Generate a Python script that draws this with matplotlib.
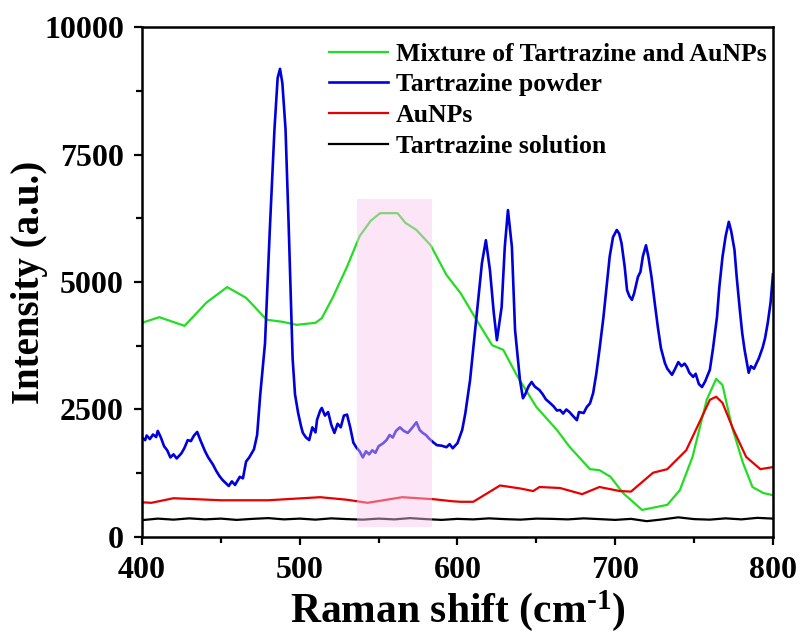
import matplotlib
matplotlib.use("Agg")
import matplotlib.pyplot as plt
from matplotlib.patches import Rectangle
from matplotlib.ticker import MultipleLocator

# Raman spectra, intensity in a.u. against shift in cm^-1
mix_x = [400, 411, 427, 441, 454, 466, 479, 489, 498, 510, 514, 521, 530, 538,
         545, 551, 562, 567, 574, 583, 593, 602, 612, 622, 629, 638, 650, 663,
         671, 684, 690, 697, 705, 717, 733, 741, 749, 758, 764, 768, 774, 781,
         787, 794, 800]
mix_y = [4200, 4310, 4140, 4600, 4900, 4690, 4260, 4220, 4160, 4200, 4290, 4700,
         5300, 5900, 6200, 6350, 6350, 6160, 6020, 5720, 5140, 4780, 4260, 3760,
         3670, 3150, 2550, 2100, 1770, 1330, 1310, 1180, 860, 530, 630, 920, 1570,
         2690, 3100, 2980, 2160, 1450, 980, 860, 820]

powder = [
    (400, 1950), (402, 1900), (403, 1990), (405, 1920), (407, 2010), (409, 1960),
    (410, 2080), (412, 1950), (414, 1780), (416, 1700), (418, 1560), (420, 1620),
    (422, 1540), (425, 1640), (427, 1750), (429, 1900), (431, 1880), (433, 1990),
    (435, 2060), (437, 1900), (440, 1680), (442, 1560), (445, 1420), (447, 1300),
    (449, 1200), (451, 1120), (453, 1060), (455, 1000), (457, 1090), (459, 1020),
    (462, 1180), (464, 1150), (466, 1480), (468, 1560), (471, 1720), (473, 2000),
    (475, 2800), (478, 3800), (481, 6000), (484, 8000), (486, 9000), (487.5, 9180),
    (489, 8900), (491, 8000), (493, 6100), (495.5, 3500), (497, 2800), (499, 2430),
    (501, 2150), (502, 2040), (504, 1950), (506, 1900), (508, 2150), (510, 2050),
    (511, 2300), (513, 2480), (514, 2530), (516, 2380), (518, 2450), (520, 2200),
    (522, 2040), (524, 2220), (526, 2150), (528, 2380), (530, 2400), (532, 2150),
    (534, 1850), (536, 1750), (538, 1680), (540, 1560), (542, 1680), (544, 1620),
    (546, 1700), (548, 1650), (550, 1780), (553, 1840), (555, 1900), (557, 2000),
    (559, 1950), (561, 2080), (563.5, 2150), (566, 2080), (568.5, 2040), (571, 2130),
    (574, 2250), (576, 2100), (578, 2040), (580, 2000), (582, 1930), (584.5, 1860),
    (587, 1800), (590, 1790), (593, 1760), (595, 1820), (597, 1740), (600, 1840),
    (603, 2100), (605, 2430), (608, 3080), (611.7, 4200), (615.5, 5370), (618, 5820),
    (620.6, 5230), (623, 4400), (625, 3860), (628, 4510), (630, 5690), (632, 6410),
    (634.5, 5690), (636.5, 4060), (639.6, 3080), (641.5, 2720), (643, 2800),
    (645, 2950), (647, 3040), (649, 2950), (652, 2880), (654, 2800), (656, 2700),
    (658.6, 2630), (661, 2560), (663, 2480), (665, 2490), (667, 2420), (669, 2500),
    (671, 2450), (673, 2380), (675.7, 2290), (677, 2450), (680, 2430), (682, 2550),
    (684, 2620), (686, 2820), (688, 3200), (690, 3670), (692.5, 4300), (694.8, 4980),
    (696.5, 5500), (698.6, 5880), (701, 6020), (702.5, 5950), (704, 5760), (706, 5300),
    (707.5, 4840), (709, 4720), (710.6, 4650), (712, 4780), (714.4, 5100), (716, 5200),
    (717.5, 5500), (719.5, 5720), (721, 5500), (723, 5100), (725, 4600), (727, 4120),
    (729, 3700), (731.5, 3410), (733, 3300), (736, 3180), (738, 3300), (740, 3430),
    (742, 3350), (744, 3400), (745.5, 3330), (747, 3220), (749.4, 3140), (751, 3200),
    (753, 3000), (755, 2940), (757, 3050), (760, 3280), (762, 3700), (764.5, 4310),
    (766, 4900), (768, 5490), (770, 5900), (772, 6180), (773.5, 6000), (775.6, 5630),
    (777, 5100), (779, 4450), (780.5, 4000), (782, 3670), (784.6, 3220), (786, 3350),
    (788, 3300), (789.6, 3410), (791, 3500), (793.5, 3720), (795, 3900), (796.7, 4200),
    (798.5, 4600), (800, 5150),
]
powder_x = [p[0] for p in powder]
powder_y = [p[1] for p in powder]

au_x = [400, 406, 420, 450, 480, 513, 530, 543, 565, 585, 597, 602, 610, 627, 640,
        648, 652, 665, 679, 690, 703, 710, 724, 733, 745, 754, 760, 764, 768, 775,
        783, 792, 800]
au_y = [680, 670, 760, 720, 720, 780, 730, 670, 780, 740, 700, 690, 690, 1010, 950,
        900, 980, 960, 840, 980, 900, 890, 1260, 1330, 1700, 2290, 2690, 2750, 2630,
        2100, 1570, 1330, 1370]

sol_x = list(range(400, 801, 10))
sol_y = [330, 360, 340, 365, 345, 360, 335, 355, 370, 345, 360, 340, 365, 350, 340,
         360, 345, 370, 350, 335, 355, 345, 365, 350, 340, 360, 355, 345, 365, 350,
         335, 355, 310, 345, 385, 350, 340, 365, 345, 375, 360]

labels = ["Mixture of Tartrazine and AuNPs", "Tartrazine powder", "AuNPs",
          "Tartrazine solution"]

# highlighted band
band_x = (536, 584)
band_y = (200, 6630)

plt.rcParams['font.family'] = ['Liberation Serif', 'DejaVu Serif']
plt.rcParams['font.weight'] = 'bold'
plt.rcParams['mathtext.fontset'] = 'custom'
plt.rcParams['mathtext.bf'] = 'Liberation Serif:bold'
plt.rcParams['mathtext.rm'] = 'Liberation Serif:bold'
plt.rcParams['mathtext.default'] = 'bf'

fig = plt.figure(figsize=(8.03, 6.33), dpi=100)
ax = fig.add_axes([0.1768, 0.1517, 0.7858, 0.8056])

ax.plot(mix_x, mix_y, color='#22dd22', lw=1.6, label=labels[0])
ax.plot(powder_x, powder_y, color='#0000dd', lw=1.9, label=labels[1])
ax.plot(au_x, au_y, color='#e80000', lw=1.6, label=labels[2])
ax.plot(sol_x, sol_y, color='black', lw=1.6, label=labels[3])

ax.add_patch(Rectangle((band_x[0], band_y[0]), band_x[1] - band_x[0],
                       band_y[1] - band_y[0], facecolor=(0.98, 0.78, 0.93),
                       alpha=0.45, edgecolor='none', zorder=5))

ax.set_xlim(400, 800)
ax.set_ylim(0, 10000)
ax.xaxis.set_major_locator(MultipleLocator(100))
ax.xaxis.set_minor_locator(MultipleLocator(50))
ax.yaxis.set_major_locator(MultipleLocator(2500))
ax.yaxis.set_minor_locator(MultipleLocator(1250))
ax.tick_params(which='major', direction='out', length=6, width=1.6,
               top=False, right=False)
ax.tick_params(which='minor', direction='out', length=4, width=1.6,
               top=False, right=False)
ax.tick_params(axis='x', labelsize=23, pad=8)
ax.tick_params(axis='y', labelsize=23, pad=7)
for s in ax.spines.values():
    s.set_linewidth(1.8)

ax.set_xlabel(r'Raman shift (cm$^{\text{-}1}$)', fontsize=30, fontweight='bold',
              labelpad=2)
ax.set_ylabel('Intensity (a.u.)', fontsize=28, fontweight='bold', labelpad=-3)

ax.legend(loc='upper left', bbox_to_anchor=(0.26, 1.015), frameon=False,
          fontsize=18.5, handlelength=2.3, handletextpad=0.3, labelspacing=0.3)

fig.savefig('out.png', dpi=100)
